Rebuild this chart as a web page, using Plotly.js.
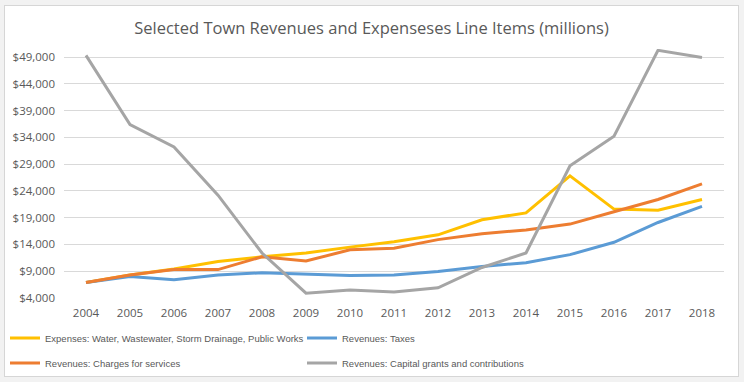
<!DOCTYPE html>
<html>
<head>
<meta charset="utf-8">
<script src="https://cdn.plot.ly/plotly-3.0.1.min.js"></script>
<style>
html,body{margin:0;padding:0;background:#f2f2f2;width:744px;height:382px;overflow:hidden;}
#chart{position:absolute;left:4px;top:5px;width:733px;height:370px;border:1px solid #d6d6d6;background:#fff;}
</style>
</head>
<body>
<div id="chart"></div>
<script>
const years = ['2004','2005','2006','2007','2008','2009','2010','2011','2012','2013','2014','2015','2016','2017','2018'];
const expensesWater = [6900, 8300, 9400, 10800, 11700, 12400, 13500, 14500, 15800, 18600, 19900, 26800, 20600, 20400, 22400];
const revenuesTaxes = [6900, 8000, 7400, 8300, 8700, 8500, 8200, 8300, 8950, 9900, 10600, 12100, 14400, 18100, 21100];
const revenuesCharges = [6900, 8300, 9300, 9300, 11700, 10900, 13000, 13300, 14900, 16000, 16700, 17800, 20100, 22400, 25300];
const revenuesCapital = [49300, 36400, 32200, 23200, 12400, 4900, 5500, 5100, 5900, 9700, 12400, 28700, 34200, 50250, 48900];
const tickValues = [4000, 9000, 14000, 19000, 24000, 29000, 34000, 39000, 44000, 49000];
const tickLabels = ['$4,000','$9,000','$14,000','$19,000','$24,000','$29,000','$34,000','$39,000','$44,000','$49,000'];

const fontFam = '"Open Sans", "Liberation Sans", sans-serif';
const legFam = '"Liberation Sans", Arial, sans-serif';
const textCol = '#595959';

function tr(name, y, color, legend) {
  return {
    type: 'scatter', mode: 'lines', name: name, x: years, y: y,
    line: {color: color, width: 3}, legend: legend
  };
}

const data = [
  tr('Expenses: Water, Wastewater, Storm Drainage, Public Works', expensesWater, '#FFC000', 'legend'),
  tr('Revenues: Taxes', revenuesTaxes, '#5B9BD5', 'legend2'),
  tr('Revenues: Charges for services', revenuesCharges, '#ED7D31', 'legend3'),
  tr('Revenues: Capital grants and contributions', revenuesCapital, '#A5A5A5', 'legend4')
];

const legendCommon = {
  orientation: 'h', xref: 'container', yref: 'container', xanchor: 'left', yanchor: 'middle',
  bgcolor: 'rgba(0,0,0,0)',
  font: {family: legFam, size: 9.5, color: textCol}, itemwidth: 30
};
const col1 = 0.0, col2 = 297/733, row1 = 1 - 332/370, row2 = 1 - 357/370;

const layout = {
  width: 733, height: 370,
  margin: {l: 59, r: 14, t: 43, b: 78, autoexpand: false},
  paper_bgcolor: '#ffffff', plot_bgcolor: '#ffffff',
  title: {text: 'Selected Town Revenues and Expenseses Line Items (millions)',
          font: {family: fontFam, size: 16.5, color: textCol},
          x: 0.5, xanchor: 'center', y: 1 - 22/370, yanchor: 'middle', xref: 'container', yref: 'container'},
  xaxis: {
    type: 'category', range: [-0.5, 14.5], showgrid: false, showline: false, zeroline: false,
    ticks: '', tickfont: {family: fontFam, size: 11.5, color: textCol}, ticklabelstandoff: 6,
    tickangle: 0, fixedrange: true
  },
  yaxis: {
    range: [4000, 50500], tickvals: tickValues, ticktext: tickLabels,
    showgrid: true, gridcolor: '#d9d9d9', gridwidth: 1, zeroline: false, showline: false,
    ticks: '', tickfont: {family: fontFam, size: 11.5, color: textCol}, ticklabelstandoff: 8, fixedrange: true
  },
  showlegend: true,
  legend: Object.assign({}, legendCommon, {x: col1, y: row1}),
  legend2: Object.assign({}, legendCommon, {x: col2, y: row1}),
  legend3: Object.assign({}, legendCommon, {x: col1, y: row2}),
  legend4: Object.assign({}, legendCommon, {x: col2, y: row2})
};

Plotly.newPlot('chart', data, layout, {displayModeBar: false, staticPlot: true});
</script>
</body>
</html>
